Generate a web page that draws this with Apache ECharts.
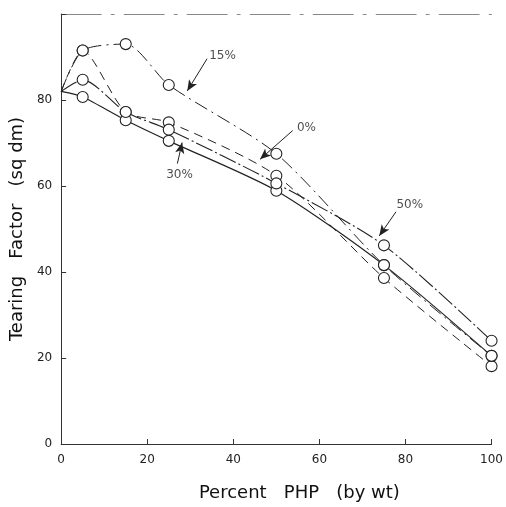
<!DOCTYPE html>
<html>
<head>
<meta charset="utf-8">
<script src="https://cdn.jsdelivr.net/npm/echarts@6/dist/echarts.min.js"></script>
<style>
  html, body { margin: 0; padding: 0; background: #fff; }
  #chart { width: 506px; height: 507px; }
</style>
</head>
<body>
<div id="chart"></div>
<script>
// percent PHP (by wt)
const php = [0, 5, 15, 25, 50, 75, 100];

// tearing factor, one array per curve
const tear0 = [82, 91.5, 77.2, 74.8, 62.4, 38.6, 18.1];
const tear15 = [82, 91.5, 93, 83.5, 67.5, 41.6, 20.5];
const tear30 = [82, 80.7, 75.3, 70.5, 58.9, 41.6, 20.5];
const tear50 = [82, 84.7, 77.2, 73.1, 60.6, 46.2, 24];

// annotation: label, text position, arrow start, arrow tip (data units)
const notes = [
  ['15%', [37.5, 90.3], [33.9, 89.6], [29.3, 82.1]],
  ['0%', [57, 73.5], [53.8, 72.9], [46.2, 66.2]],
  ['30%', [27.5, 62.5], [27, 65.2], [28.1, 70.1]],
  ['50%', [81, 55.5], [77.8, 54], [73.9, 48.4]]
];

const chart = echarts.init(document.getElementById('chart'));

function pts(ys) {
  // curves meet on the axis at 0 % without a circle
  return php.map((x, i) => (i === 0 ? { value: [x, ys[i]], symbol: 'none' } : [x, ys[i]]));
}

function curve(name, ys, dash, width) {
  return {
    name: name,
    type: 'line',
    data: pts(ys),
    smooth: 0.25,
    symbol: 'circle',
    symbolSize: 11,
    itemStyle: { color: '#fff', borderColor: '#222', borderWidth: 1.1 },
    lineStyle: { color: '#222', width: width, type: dash },
    z: 3
  };
}

const series = [
  curve('0%', tear0, [9, 6], 1),
  curve('15%', tear15, [14, 5, 2, 5], 1),
  curve('30%', tear30, 'solid', 1.2),
  curve('50%', tear50, [18, 3, 2, 3], 1.1)
];

// labels and arrows
series.push({
  type: 'scatter',
  data: notes.map(n => ({ value: n[1], name: n[0] })),
  symbolSize: 0,
  label: {
    show: true,
    formatter: p => p.name,
    position: 'inside',
    color: '#222',
    fontFamily: 'DejaVu Sans',
    fontSize: 12
  },
  silent: true,
  markLine: {
    silent: true,
    symbol: ['none', 'arrow'],
    symbolSize: [7, 11],
    label: { show: false },
    lineStyle: { color: '#222', width: 1, type: 'solid' },
    data: notes.map(n => [{ coord: n[2] }, { coord: n[3] }])
  }
});

const option = {
  animation: false,
  backgroundColor: '#fff',
  grid: { left: 60, right: 9, top: 14, bottom: 57 },
  xAxis: [
    {
      type: 'value',
      min: 0,
      max: 100,
      interval: 20,
      name: 'Percent   PHP   (by wt)',
      nameLocation: 'middle',
      nameGap: 40,
      nameTextStyle: {
        fontFamily: 'DejaVu Sans',
        fontSize: 18,
        color: '#111',
        padding: [0, 0, 0, 46]
      },
      axisLine: { lineStyle: { color: '#333', width: 1 } },
      axisTick: { inside: true, length: 5, lineStyle: { color: '#333' } },
      axisLabel: { fontFamily: 'DejaVu Sans', fontSize: 12, color: '#222', margin: 10 },
      splitLine: { show: false }
    },
    {
      type: 'value',
      position: 'top',
      min: 0,
      max: 100,
      axisLine: { show: true, lineStyle: { color: '#888', width: 1, type: [40, 10, 3, 10] } },
      axisTick: { show: false },
      axisLabel: { show: false },
      splitLine: { show: false }
    }
  ],
  yAxis: {
    type: 'value',
    min: 0,
    max: 100,
    interval: 20,
    name: 'Tearing   Factor   (sq dm)',
    nameLocation: 'middle',
    nameGap: 32,
    nameTextStyle: { fontFamily: 'DejaVu Sans', fontSize: 18, color: '#111' },
    axisLine: { show: true, lineStyle: { color: '#333', width: 1 } },
    axisTick: { inside: true, length: 5, lineStyle: { color: '#333' } },
    axisLabel: {
      fontFamily: 'DejaVu Sans',
      fontSize: 12,
      color: '#222',
      margin: 9,
      formatter: v => (v === 100 ? '' : v)
    },
    splitLine: { show: false }
  },
  series: series
};

option && chart.setOption(option);
</script>
</body>
</html>
